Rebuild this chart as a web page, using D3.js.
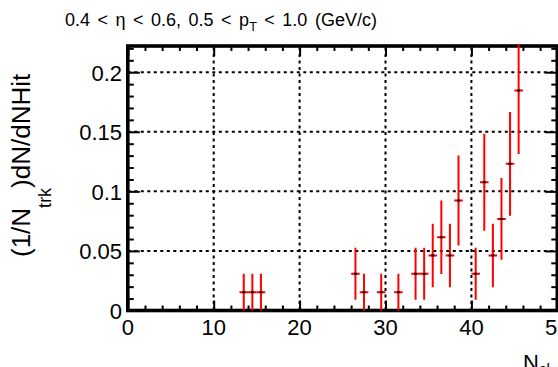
<!DOCTYPE html>
<html><head><meta charset="utf-8">
<script src="https://cdn.jsdelivr.net/npm/d3@7"></script>
<style>body{margin:0;background:#fff}svg{display:block}text{font-family:"Liberation Sans",Arial,sans-serif}</style>
</head><body><div id="chart"></div>
<script>
// Data
const binCenters = [13.5,14.5,15.5,26.5,27.5,29.5,31.5,33.5,34.5,35.5,36.5,37.5,38.5,40.5,41.5,42.5,43.5,44.5,45.5];
const values     = [0.0154,0.0154,0.0154,0.0308,0.0154,0.0154,0.0154,0.0308,0.0308,0.0462,0.0615,0.0462,0.0923,0.0308,0.1077,0.0462,0.0769,0.1231,0.1846];
const errors     = [0.0154,0.0154,0.0154,0.0218,0.0154,0.0154,0.0154,0.0218,0.0218,0.0266,0.0308,0.0266,0.0377,0.0218,0.0407,0.0266,0.0344,0.0435,0.0533];
const binHalfWidth = 0.5;
const xTicks = [0,10,20,30,40,50];
const yTicks = [0,0.05,0.1,0.15,0.2];
const yTickLabels = ["0","0.05","0.1","0.15","0.2"];

(function(){
const W = 558, H = 367;
const x = d3.scaleLinear().domain([0,50]).range([127.8,557.3]);
const y = d3.scaleLinear().domain([0,0.222]).range([310.5,46]);

const svg = d3.select("#chart").append("svg").attr("width",W).attr("height",H);

// grid
const grid = svg.append("g").attr("stroke","#000").attr("stroke-width",2).attr("stroke-dasharray","3,3.5");
grid.selectAll("line.gx").data(xTicks.filter(d=>d>0&&d<50)).enter().append("line")
  .attr("x1",d=>x(d)).attr("x2",d=>x(d)).attr("y1",y(0)).attr("y2",y.range()[1]);
grid.selectAll("line.gy").data(yTicks.filter(d=>d>0)).enter().append("line")
  .attr("y1",d=>y(d)).attr("y2",d=>y(d)).attr("x1",x(0)).attr("x2",x(50));

// axes with inward ticks
const xMinor = d3.range(0,50.01,2).filter(d=>d%10!==0);
const yMinor = d3.range(0,0.2205,0.01).filter(d=>Math.abs(d/0.05-Math.round(d/0.05))>1e-6);
const yTop = y.range()[1];

svg.append("g").attr("transform",`translate(0,${y(0)})`)
  .call(d3.axisBottom(x).tickValues(xTicks).tickSize(-10).tickFormat(""));
svg.append("g").attr("transform",`translate(0,${y(0)})`)
  .call(d3.axisBottom(x).tickValues(xMinor).tickSize(-5).tickFormat(""));
svg.append("g").attr("transform",`translate(0,${yTop})`)
  .call(d3.axisTop(x).tickValues(xTicks).tickSize(-10).tickFormat(""));
svg.append("g").attr("transform",`translate(0,${yTop})`)
  .call(d3.axisTop(x).tickValues(xMinor).tickSize(-5).tickFormat(""));
svg.append("g").attr("transform",`translate(${x(0)},0)`)
  .call(d3.axisLeft(y).tickValues(yTicks).tickSize(-12).tickFormat(""));
svg.append("g").attr("transform",`translate(${x(0)},0)`)
  .call(d3.axisLeft(y).tickValues(yMinor).tickSize(-6).tickFormat(""));
svg.append("g").attr("transform",`translate(${x(50)},0)`)
  .call(d3.axisRight(y).tickValues(yTicks).tickSize(-12).tickFormat(""));
svg.append("g").attr("transform",`translate(${x(50)},0)`)
  .call(d3.axisRight(y).tickValues(yMinor).tickSize(-6).tickFormat(""));
svg.selectAll(".domain").remove();
svg.selectAll(".tick line").attr("stroke","#000").attr("stroke-width",2);

// frame
svg.append("rect").attr("x",x(0)).attr("y",yTop).attr("width",x(50)-x(0)).attr("height",y(0)-yTop)
  .attr("fill","none").attr("stroke","#000").attr("stroke-width",3.6);

// tick labels
svg.append("g").selectAll("text").data(xTicks).enter().append("text")
  .attr("x",d=>x(d)).attr("y",334.5).attr("text-anchor","middle").attr("font-size",22).attr("fill","#000").text(d=>d);
svg.append("g").selectAll("text").data(yTicks).enter().append("text")
  .attr("x",122).attr("y",d=>y(d)+8.5).attr("text-anchor","end").attr("font-size",22).attr("fill","#000")
  .text((d,i)=>yTickLabels[i]);

// data
svg.append("clipPath").attr("id","clip").append("rect")
  .attr("x",x(0)-2).attr("y",yTop-2).attr("width",x(50)-x(0)+4).attr("height",y(0)-yTop+4);
const pts = svg.append("g").attr("clip-path","url(#clip)");
const pd = binCenters.map((c,i)=>({c, v:values[i], e:errors[i]}));
pts.selectAll("line.v").data(pd).enter().append("line")
  .attr("x1",d=>x(d.c)).attr("x2",d=>x(d.c)).attr("y1",d=>y(Math.max(0,d.v-d.e))).attr("y2",d=>y(d.v+d.e))
  .attr("stroke","#ff0000").attr("stroke-width",2);
pts.selectAll("line.h").data(pd).enter().append("line")
  .attr("x1",d=>x(d.c-binHalfWidth)).attr("x2",d=>x(d.c+binHalfWidth)).attr("y1",d=>y(d.v)).attr("y2",d=>y(d.v))
  .attr("stroke","#ff0000").attr("stroke-width",2);
pts.selectAll("rect.m").data(pd).enter().append("rect")
  .attr("x",d=>x(d.c)-1.5).attr("y",d=>y(d.v)-1).attr("width",3).attr("height",2).attr("fill","#000");

// title
const t = svg.append("text").attr("x",65).attr("y",25.5).attr("font-size",18).attr("word-spacing","2.5px").attr("fill","#000");
t.append("tspan").text("0.4 < η < 0.6, 0.5 < p");
t.append("tspan").attr("font-size",12.6).attr("dy",5).text("T");
t.append("tspan").attr("dy",-5).text(" < 1.0 (GeV/c)");

// y title
const yt = svg.append("text").attr("transform","translate(30,257) rotate(-90)").attr("font-size",26).attr("fill","#000");
yt.append("tspan").text("(1/N");
yt.append("tspan").attr("font-size",18).attr("dy",21).text("trk");
yt.append("tspan").attr("dy",-21).text(")dN/dNHit");

// x title
const xt = svg.append("text").attr("x",523).attr("y",370).attr("font-size",22).attr("fill","#000");
xt.append("tspan").text("N");
xt.append("tspan").attr("font-size",15).attr("dy",4).text("cl");
})();
</script></body></html>
